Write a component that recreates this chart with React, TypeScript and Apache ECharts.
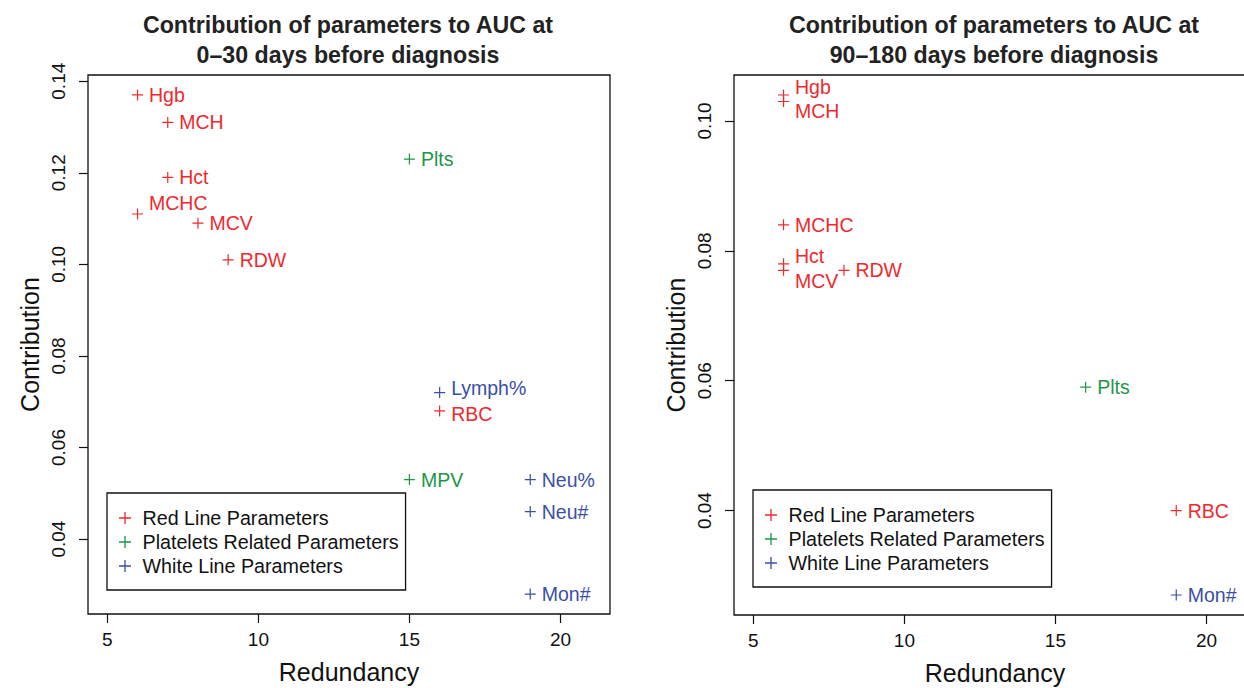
import React, { useEffect, useRef } from "react";
import * as echarts from "echarts";

// ---------- Data ----------
// Panel A: 0–30 days before diagnosis
const redNamesA = ["Hgb", "MCH", "Hct", "MCHC", "MCV", "RDW", "RBC"];
const redXA = [6, 7, 7, 6, 8, 9, 16];
const redYA = [0.137, 0.131, 0.119, 0.111, 0.109, 0.101, 0.068];
const pltNamesA = ["Plts", "MPV"];
const pltXA = [15, 15];
const pltYA = [0.123, 0.053];
const whiteNamesA = ["Lymph%", "Neu%", "Neu#", "Mon#"];
const whiteXA = [16, 19, 19, 19];
const whiteYA = [0.072, 0.053, 0.046, 0.028];

// Panel B: 90–180 days before diagnosis
const redNamesB = ["Hgb", "MCH", "MCHC", "Hct", "MCV", "RDW", "RBC"];
const redXB = [6, 6, 6, 6, 6, 8, 19];
const redYB = [0.104, 0.103, 0.084, 0.078, 0.077, 0.077, 0.04];
const pltNamesB = ["Plts"];
const pltXB = [16];
const pltYB = [0.059];
const whiteNamesB = ["Mon#"];
const whiteXB = [19];
const whiteYB = [0.027];

const xTicks = [5, 10, 15, 20];
const xLimits = [5, 21];
const yTicksA = [0.04, 0.06, 0.08, 0.1, 0.12, 0.14];
const yTicksB = [0.04, 0.06, 0.08, 0.1];

const groupNames = ["Red Line Parameters", "Platelets Related Parameters", "White Line Parameters"];
const titles = [
  "Contribution of parameters to AUC at\n0\u201330 days before diagnosis",
  "Contribution of parameters to AUC at\n90\u2013180 days before diagnosis",
];

// ---------- Layout / style (not data) ----------
const COLORS = ["#ee2a2f", "#1e9648", "#3a4fa6"];
const FONT = "'Liberation Sans', Arial, Helvetica, sans-serif";
const PLUS = "path://M-0.11,-1H0.11V-0.11H1V0.11H0.11V1H-0.11V0.11H-1V-0.11H-0.11Z";
const nudgeA: Record<string, number> = { MCHC: -11, "Lymph%": -5, RBC: 3 };
const nudgeB: Record<string, number> = { Hgb: -8, MCH: 10, Hct: -8, MCV: 11 };

function expand(lo: number, hi: number) {
  const r = hi - lo;
  return [lo - 0.04 * r, hi + 0.04 * r];
}

function points(names: string[], xs: number[], ys: number[], nudge: Record<string, number>) {
  return names.map((n, i) => {
    const item: any = { name: n, value: [xs[i], ys[i]] };
    if (nudge[n] !== undefined) item.label = { offset: [0, nudge[n]] };
    return item;
  });
}

export default function App() {
  const ref = useRef<HTMLDivElement>(null);
  useEffect(() => {
    if (!ref.current) return;
    const chart = echarts.init(ref.current, null, { renderer: "svg" });

    const [xmin, xmax] = expand(xLimits[0], xLimits[1]);
    const allYA = [...redYA, ...pltYA, ...whiteYA];
    const allYB = [...redYB, ...pltYB, ...whiteYB];
    const [yminA, ymaxA] = expand(Math.min(...allYA), Math.max(...allYA));
    const [yminB, ymaxB] = expand(Math.min(...allYB), Math.max(...allYB));

    const xAxisBase = (gridIndex: number) => ({
      gridIndex,
      type: "value",
      min: xmin,
      max: xmax,
      name: "Redundancy",
      nameLocation: "middle",
      nameGap: 45,
      nameTextStyle: { fontSize: 25, color: "#111", fontFamily: FONT },
      axisLine: { show: false },
      splitLine: { show: false },
      axisTick: { show: true, length: 9, customValues: xTicks, lineStyle: { color: "#111", width: 1.2 } },
      axisLabel: { customValues: xTicks, fontSize: 19, color: "#111", margin: 16, fontFamily: FONT },
    });
    const yAxisBase = (gridIndex: number, min: number, max: number, ticks: number[]) => ({
      gridIndex,
      type: "value",
      min,
      max,
      name: "Contribution",
      nameLocation: "middle",
      nameGap: 46,
      nameTextStyle: { fontSize: 25, color: "#111", fontFamily: FONT },
      axisLine: { show: false },
      splitLine: { show: false },
      axisTick: { show: true, length: 9, customValues: ticks, lineStyle: { color: "#111", width: 1.2 } },
      axisLabel: {
        customValues: ticks,
        rotate: 90,
        fontSize: 19,
        color: "#111",
        margin: 20,
        fontFamily: FONT,
        formatter: (v: number) => v.toFixed(2),
      },
    });

    const mkSeries = (
      gi: number,
      idx: number,
      names: string[],
      xs: number[],
      ys: number[],
      nudge: Record<string, number>
    ) => ({
      type: "scatter",
      name: groupNames[idx],
      xAxisIndex: gi,
      yAxisIndex: gi,
      symbol: PLUS,
      symbolSize: 11,
      itemStyle: { color: COLORS[idx], opacity: 1 },
      label: {
        show: true,
        position: "right",
        distance: 6,
        formatter: "{b}",
        color: COLORS[idx],
        fontSize: 19.5,
        fontFamily: FONT,
      },
      emphasis: { disabled: true },
      data: points(names, xs, ys, nudge),
    });

    const legendBase = (left: number, top: number) => ({
      left,
      top,
      orient: "vertical",
      data: groupNames,
      icon: PLUS,
      itemWidth: 25,
      itemHeight: 12,
      itemGap: 0,
      padding: [13, 7, 12, 12],
      borderColor: "#111",
      borderWidth: 1.3,
      borderRadius: 0,
      selectedMode: false,
      textStyle: { fontSize: 19.7, color: "#111", lineHeight: 24, fontFamily: FONT },
    });

    const titleStyle = { fontSize: 23.2, fontWeight: "bold", color: "#222", lineHeight: 30, fontFamily: FONT };

    chart.setOption({
      animation: false,
      backgroundColor: "#ffffff",
      textStyle: { fontFamily: FONT },
      title: [
        { text: titles[0], left: 343, top: 5, textAlign: "center", textStyle: titleStyle },
        { text: titles[1], left: 989, top: 5, textAlign: "center", textStyle: titleStyle },
      ],
      legend: [legendBase(107, 493), legendBase(753, 490)],
      grid: [
        {
          left: 88, top: 75, width: 522, height: 539, show: true,
          borderColor: "#111", borderWidth: 1.3, backgroundColor: "transparent",
          outerBoundsMode: "none",
        },
        {
          left: 734, top: 75, width: 522, height: 540, show: true,
          borderColor: "#111", borderWidth: 1.3, backgroundColor: "transparent",
          outerBoundsMode: "none",
        },
      ],
      xAxis: [xAxisBase(0), xAxisBase(1)],
      yAxis: [yAxisBase(0, yminA, ymaxA, yTicksA), yAxisBase(1, yminB, ymaxB, yTicksB)],
      series: [
        mkSeries(0, 0, redNamesA, redXA, redYA, nudgeA),
        mkSeries(0, 1, pltNamesA, pltXA, pltYA, nudgeA),
        mkSeries(0, 2, whiteNamesA, whiteXA, whiteYA, nudgeA),
        mkSeries(1, 0, redNamesB, redXB, redYB, nudgeB),
        mkSeries(1, 1, pltNamesB, pltXB, pltYB, nudgeB),
        mkSeries(1, 2, whiteNamesB, whiteXB, whiteYB, nudgeB),
      ],
    });
    return () => chart.dispose();
  }, []);
  return (
    <div
      ref={ref}
      style={{ position: "fixed", left: 0, top: 0, width: 1244, height: 688, background: "#fff" }}
    />
  );
}
